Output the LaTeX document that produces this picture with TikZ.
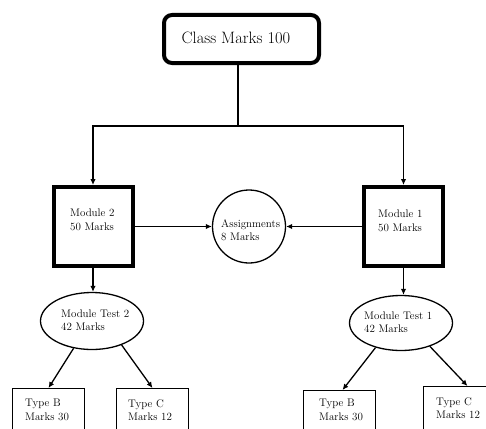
\documentclass[tikz,border=0pt]{standalone}
\usetikzlibrary{shapes.geometric,arrows.meta,calc}
\begin{document}
\begin{tikzpicture}[x=1pt,y=-1pt,
  txt/.style={font=\fontsize{11}{13.5}\selectfont, align=left, anchor=west, inner sep=0pt},
  thickbox/.style={draw, line width=4pt, minimum width=79pt, minimum height=79pt, inner sep=0pt},
  typebox/.style={draw, line width=1.4pt, minimum width=72pt, minimum height=60pt, inner sep=0pt, anchor=north},
  oval/.style={draw, ellipse, line width=1.3pt, inner sep=0pt},
  arr/.style={line width=1.3pt, -{Latex[length=6pt,width=5.5pt]}},
  ln/.style={line width=1.3pt}]
\useasboundingbox (0,0) rectangle (486,428);
\clip (0,0) rectangle (486,428);
% top box
\node[draw, line width=4pt, rounded corners=8pt, minimum width=155pt, minimum height=48pt, inner sep=0pt] (cm) at (241.5,39) {};
\node[font=\fontsize{16.5}{19}\selectfont, inner sep=0pt] (cmt) at (236,38) {Class Marks 100};
% module boxes
\node[thickbox] (m2) at (93,226.5) {};
\node[thickbox] (m1) at (403.5,226.5) {};
\node[txt] (m2t) at (70,220) {Module 2\\50 Marks};
\node[txt] (m1t) at (378,221) {Module 1\\50 Marks};
% assignments
\node[draw, circle, line width=1.3pt, minimum size=73pt, inner sep=0pt] (as) at (249,226.5) {};
\node[txt] (ast) at (221,230) {Assignments\\8 Marks};
% module tests
\node[oval, minimum width=103pt, minimum height=57pt] (mt2) at (92,321) {};
\node[oval, minimum width=103pt, minimum height=55pt] (mt1) at (401,323) {};
\node[txt] (mt2t) at (61,320) {Module Test 2\\42 Marks};
\node[txt] (mt1t) at (364,322) {Module Test 1\\42 Marks};
% type boxes
\node[typebox] (tb2) at (48.5,388) {};
\node[typebox] (tc2) at (152.5,388) {};
\node[typebox] (tb1) at (339.5,390) {};
\node[typebox] (tc1) at (459.5,386) {};
\node[txt] (tb2t) at (25,410) {Type B\\Marks 30};
\node[txt] (tc2t) at (128,410) {Type C\\Marks 12};
\node[txt] (tb1t) at (319,410) {Type B\\Marks 30};
\node[txt] (tc1t) at (436,408) {Type C\\Marks 12};
% connectors
\coordinate (j) at (238,126);
\draw[ln] (cm.south -| j) -- (j);
\draw[arr] (j) -| (m2.north);
\draw[arr] (j) -| (m1.north);
\draw[arr] (m2.east) -- (as.west);
\draw[arr] (m1.west) -- (as.east);
\draw[arr] (m2.south) -- (m2.south |- mt2.north);
\draw[arr] (m1.south) -- (m1.south |- mt1.north);
\draw[arr] (mt2.236) -- (tb2.north);
\draw[arr] (mt2.321) -- (tc2.north);
\draw[arr] (mt1.224) -- ($(tb1.north)+(3,0)$);
\draw[arr] (mt1.321) -- ($(tc1.north)+(8,0)$);
\end{tikzpicture}
\end{document}
